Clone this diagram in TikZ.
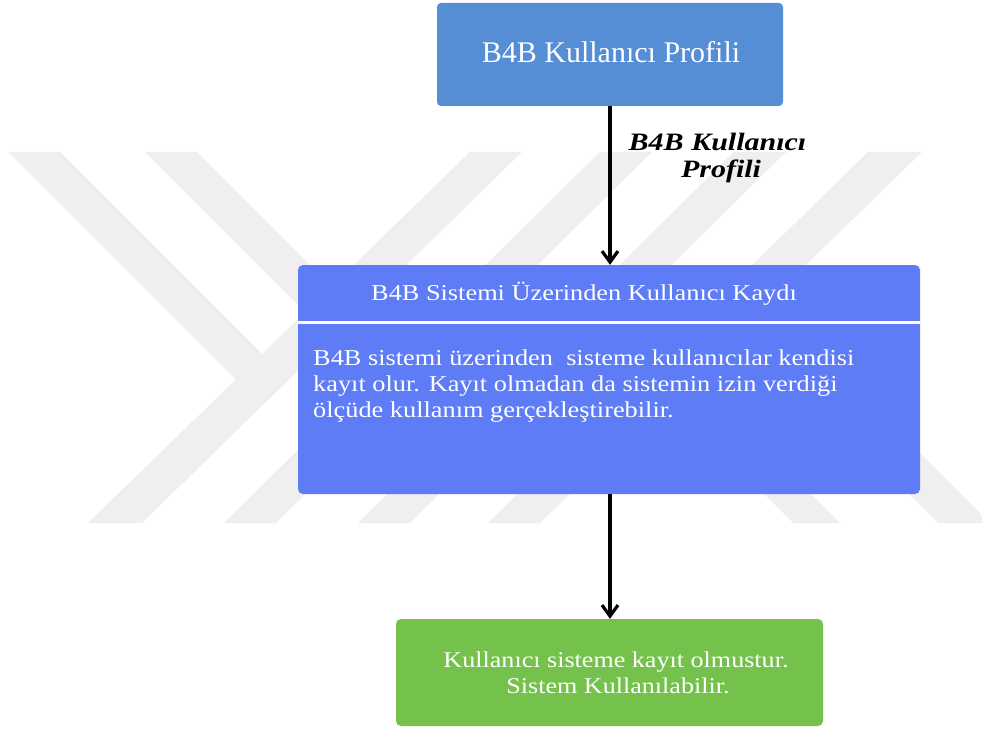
\documentclass[tikz,border=0pt]{standalone}
\usepackage{fontspec}
\setmainfont{Liberation Serif}
\newfontfamily\widefont[FakeStretch=1.16]{Liberation Serif}
\newfontfamily\labelfont[FakeStretch=1.2]{Liberation Serif}
\usetikzlibrary{arrows.meta}

\definecolor{topblue}{RGB}{85,142,213}
\definecolor{midblue}{RGB}{93,124,246}
\definecolor{okgreen}{RGB}{116,193,76}
\definecolor{wmgray}{RGB}{239,239,239}

\tikzset{
  box/.style={rectangle, rounded corners=5pt, inner sep=0pt, draw=none},
  flow/.style={line width=3.2pt, draw=black, -{Straight Barb[length=11pt,width=16pt]}},
  txt/.style={inner sep=0pt, text=white},
  wm/.style={fill=wmgray, draw=none}
}

\begin{document}
\begin{tikzpicture}[x=1pt,y=-1pt]
\useasboundingbox (0,0) rectangle (982,730);
\fill[white] (0,0) rectangle (982,730);

% background stripes
\fill[wm] (88,523) -- (142,523) -- (522,152) -- (470,152) -- cycle;
\fill[wm] (224,523) -- (276,523) -- (652,152) -- (600,152) -- cycle;
\fill[wm] (358,523) -- (410,523) -- (786,152) -- (734,152) -- cycle;
\fill[wm] (488,523) -- (540,523) -- (922,152) -- (868,152) -- cycle;
\fill[wm] (8,152) -- (60,152) -- (278,370) -- (251,395) -- cycle;
\fill[wm] (145,152) -- (197,152) -- (340,295) -- (315,322) -- cycle;
\fill[wm] (793,523) -- (840,523) -- (690,373) -- (643,373) -- cycle;
\fill[wm] (938,523) -- (990,523) -- (790,323) -- (738,323) -- cycle;

% boxes
\node[box, rounded corners=4pt, fill=topblue, minimum width=346pt, minimum height=103pt]
  (profile) at (610,54.5) {};
\node[box, fill=midblue, minimum width=622pt, minimum height=229pt]
  (kayit) at (609,379.5) {};
\node[box, fill=okgreen, minimum width=427pt, minimum height=107pt]
  (done) at (609.5,672.5) {};

% header separator
\draw[white, line width=3pt] (kayit.west |- 0,322) -- (kayit.east |- 0,322);

% texts
\node[txt, anchor=base, font=\fontsize{30}{34}\selectfont] (ptext) at (611,63) {B4B Kullanıcı Profili};

\node[txt, anchor=base, font=\widefont\fontsize{22.7}{26}\selectfont] (head) at (584,300)
  {B4B Sistemi Üzerinden Kullanıcı Kaydı};
\node[txt, anchor=base west, font=\widefont\fontsize{22.7}{26}\selectfont] (body1) at (313,365)
  {B4B sistemi üzerinden~ sisteme kullanıcılar kendisi};
\node[txt, anchor=base west, font=\widefont\fontsize{22.7}{26}\selectfont] (body2) at (313,391)
  {kayıt olur. Kayıt olmadan da sistemin izin verdiği};
\node[txt, anchor=base west, font=\widefont\fontsize{22.7}{26}\selectfont] (body3) at (313,417)
  {ölçüde kullanım gerçekleştirebilir.};

\node[txt, anchor=base, font=\widefont\fontsize{22.5}{26}\selectfont] (ok1) at (616,667)
  {Kullanıcı sisteme kayıt olmustur.};
\node[txt, anchor=base, font=\widefont\fontsize{22.5}{26}\selectfont] (ok2) at (618,693)
  {Sistem Kullanılabilir.};

% connectors
\draw[flow] (profile.south) -- (profile.south |- kayit.north);
\draw[flow] (profile.south |- kayit.south) -- (profile.south |- done.north);

% connector label
\node[inner sep=0pt, anchor=base, font=\labelfont\bfseries\itshape\fontsize{25}{27}\selectfont]
  (lab1) at (717.5,151) {B4B Kullanıcı};
\node[inner sep=0pt, anchor=base, font=\labelfont\bfseries\itshape\fontsize{25}{27}\selectfont]
  (lab2) at (721,178) {Profili};
\end{tikzpicture}
\end{document}
